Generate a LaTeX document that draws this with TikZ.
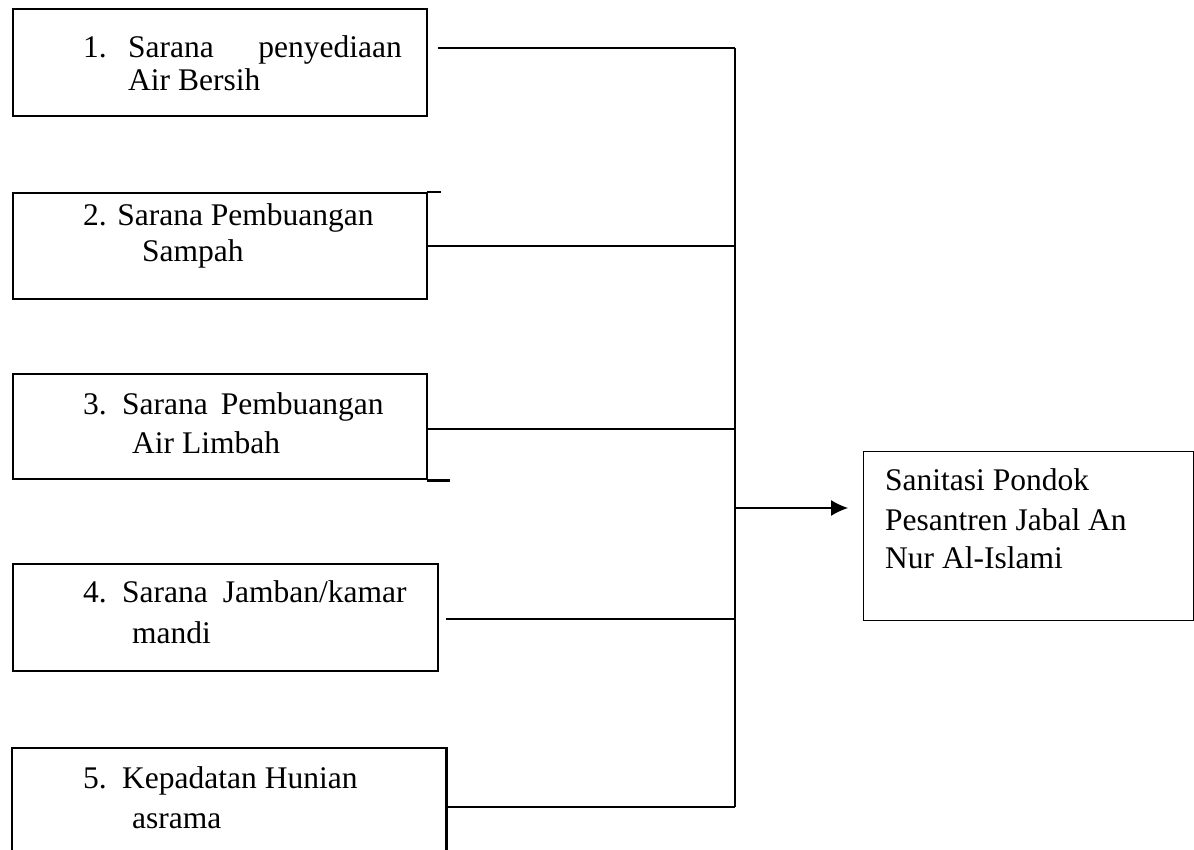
\documentclass[tikz,border=0pt]{standalone}
\usepackage{fontspec}
\setmainfont{Liberation Serif}
\usetikzlibrary{arrows.meta,calc}
\tikzset{
  boxline/.style={line width=2.4pt,line cap=rect},
  box/.style={draw,boxline,rectangle,inner sep=0pt,anchor=north west},
  thinbox/.style={draw,line width=1.3pt,rectangle,inner sep=0pt,anchor=north west},
  conn/.style={line width=1.8pt},
  txt/.style={inner sep=0pt,anchor=base west,font=\fontsize{31.5}{38}\selectfont}
}
\begin{document}
\begin{tikzpicture}[x=1pt,y=-1pt]
\useasboundingbox (0,0) rectangle (1194,850);
% boxes
\node[box,minimum width=414pt,minimum height=107pt] (b1) at (12,8) {};
\node[box,minimum width=414pt,minimum height=106pt] (b2) at (12,192) {};
\node[box,minimum width=414pt,minimum height=105pt] (b3) at (12,373) {};
\node[box,minimum width=425pt,minimum height=107pt] (b4) at (12,563) {};
\node[inner sep=0pt,anchor=north west,minimum width=434pt,minimum height=110pt] (b5) at (12,748) {};
\draw[boxline] (b5.south west) -- (b5.north west) -- (b5.north east) -- (b5.south east);
\node[thinbox,minimum width=330pt,minimum height=169pt] (r) at (863,451) {};
% extra stubs
\draw[boxline] (b2.north east) -- ++(11,0);
\draw[boxline] (b3.south east) -- ++(20,0);
% texts
\node[txt] (n1) at (83,58) {1.};
\node[txt] (t1a) at (128,58) {Sarana};
\node[txt,anchor=base east] (t1b) at (402,58) {penyediaan};
\node[txt] (t1c) at (128,91) {Air Bersih};
\node[txt] (t2a) at (83,226) {2. Sarana Pembuangan};
\node[txt] (t2b) at (142,262) {Sampah};
\node[txt] (n3) at (83,414) {3.};
\node[txt] (t3a) at (122,414) {Sarana\hspace{13pt}Pembuangan};
\node[txt] (t3b) at (132,453) {Air Limbah};
\node[txt] (n4) at (83,602) {4.};
\node[txt] (t4a) at (122,602) {Sarana\hspace{15pt}Jamban/kamar};
\node[txt] (t4b) at (132,643) {mandi};
\node[txt] (n5) at (83,788) {5.};
\node[txt] (t5a) at (122,788) {Kepadatan Hunian};
\node[txt] (t5b) at (132,828) {asrama};
\node[txt] (tr1) at (885,490) {Sanitasi Pondok};
\node[txt] (tr2) at (885,530) {Pesantren Jabal An};
\node[txt] (tr3) at (885,568) {Nur Al-Islami};
% connector points
\coordinate (s1) at (438,48);
\coordinate (s3) at (426,429);
\coordinate (s4) at (446,619);
\coordinate (s5) at (446,807);
\coordinate (j1) at (735,48);
\coordinate (j5) at (735,807);
\coordinate (ja) at (735,508);
\draw[conn] (s1) -- (j1);
\draw[conn] (b2.east) -- (b2.east -| j1);
\draw[conn] (s3) -- (s3 -| j1);
\draw[conn] (s4) -- (s4 -| j1);
\draw[conn] (s5) -- (j5);
\draw[conn] (j1) -- (j5);
\draw[line width=1.3pt,-{Latex[length=17pt,width=16pt]}] (ja) -- ([xshift=-15pt]r.west |- ja);
\end{tikzpicture}
\end{document}
